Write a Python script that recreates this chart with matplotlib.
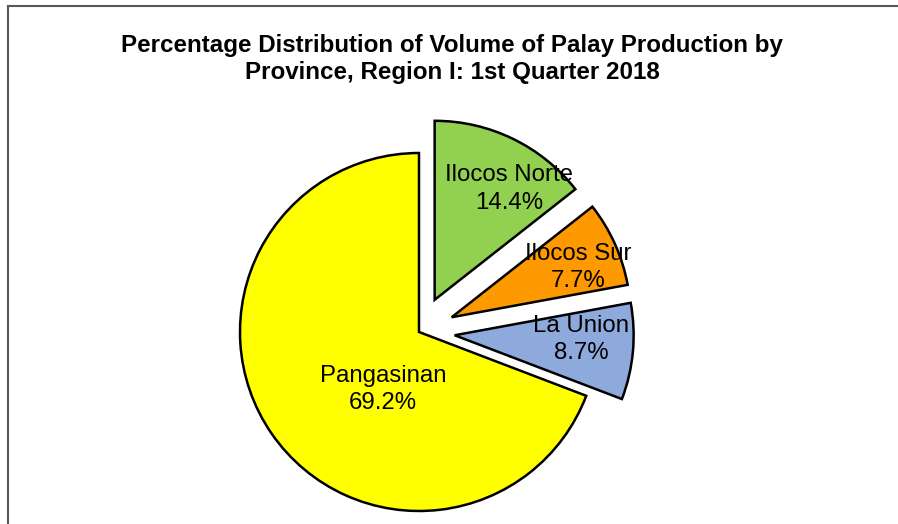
import numpy as np
import matplotlib
matplotlib.use("Agg")
import matplotlib.pyplot as plt
from matplotlib.lines import Line2D

plt.rcParams['font.family'] = ['Liberation Sans', 'DejaVu Sans']

provinces = ["Ilocos Norte", "Ilocos Sur", "La Union", "Pangasinan"]
shares = [14.4, 7.7, 8.7, 69.2]
colors = ["#92D050", "#FF9900", "#8EA9DB", "#FFFF00"]
explode_frac = [0.2, 0.2, 0.2, 0.0]
label_dist = [0.746, 0.759, 0.708, 0.38]
label_angle_shift = [-8.0, -2.8, 3.1, 23.6]
title = "Percentage Distribution of Volume of Palay Production by\nProvince, Region I: 1st Quarter 2018"

W, H = 898, 524
fig = plt.figure(figsize=(W / 100, H / 100), dpi=100)
ax = fig.add_axes([0, 0, 1, 1])

R = 179
cx, cy = 419, H - 332
wedges, _ = ax.pie(shares, colors=colors, startangle=90, counterclock=False,
                   radius=R, center=(cx, cy),
                   explode=[e * R for e in explode_frac],
                   wedgeprops=dict(edgecolor="black", linewidth=1.8))
ax.set_xlim(0, W)
ax.set_ylim(0, H)
ax.set_aspect('auto')
ax.axis('off')

for w, name, val, d, sh in zip(wedges, provinces, shares, label_dist, label_angle_shift):
    mid = np.deg2rad((w.theta1 + w.theta2) / 2 + sh)
    x0, y0 = w.center
    ax.text(x0 + d * R * np.cos(mid), y0 + d * R * np.sin(mid),
            f"{name}\n{val:.1f}%", ha="center", va="center",
            fontsize=17.3, color="black", linespacing=1.3)

fig.text(452 / W, 1 - 59 / H, title, ha="center", va="center",
         fontsize=17.4, fontweight="bold", linespacing=1.25)

fig.add_artist(Line2D([8 / W, 8 / W], [0, 1 - 6 / H], transform=fig.transFigure,
                      color="#595959", linewidth=1.5))
fig.add_artist(Line2D([8 / W, 1], [1 - 6 / H, 1 - 6 / H], transform=fig.transFigure,
                      color="#595959", linewidth=1.5))

fig.savefig("out.png", dpi=100)
